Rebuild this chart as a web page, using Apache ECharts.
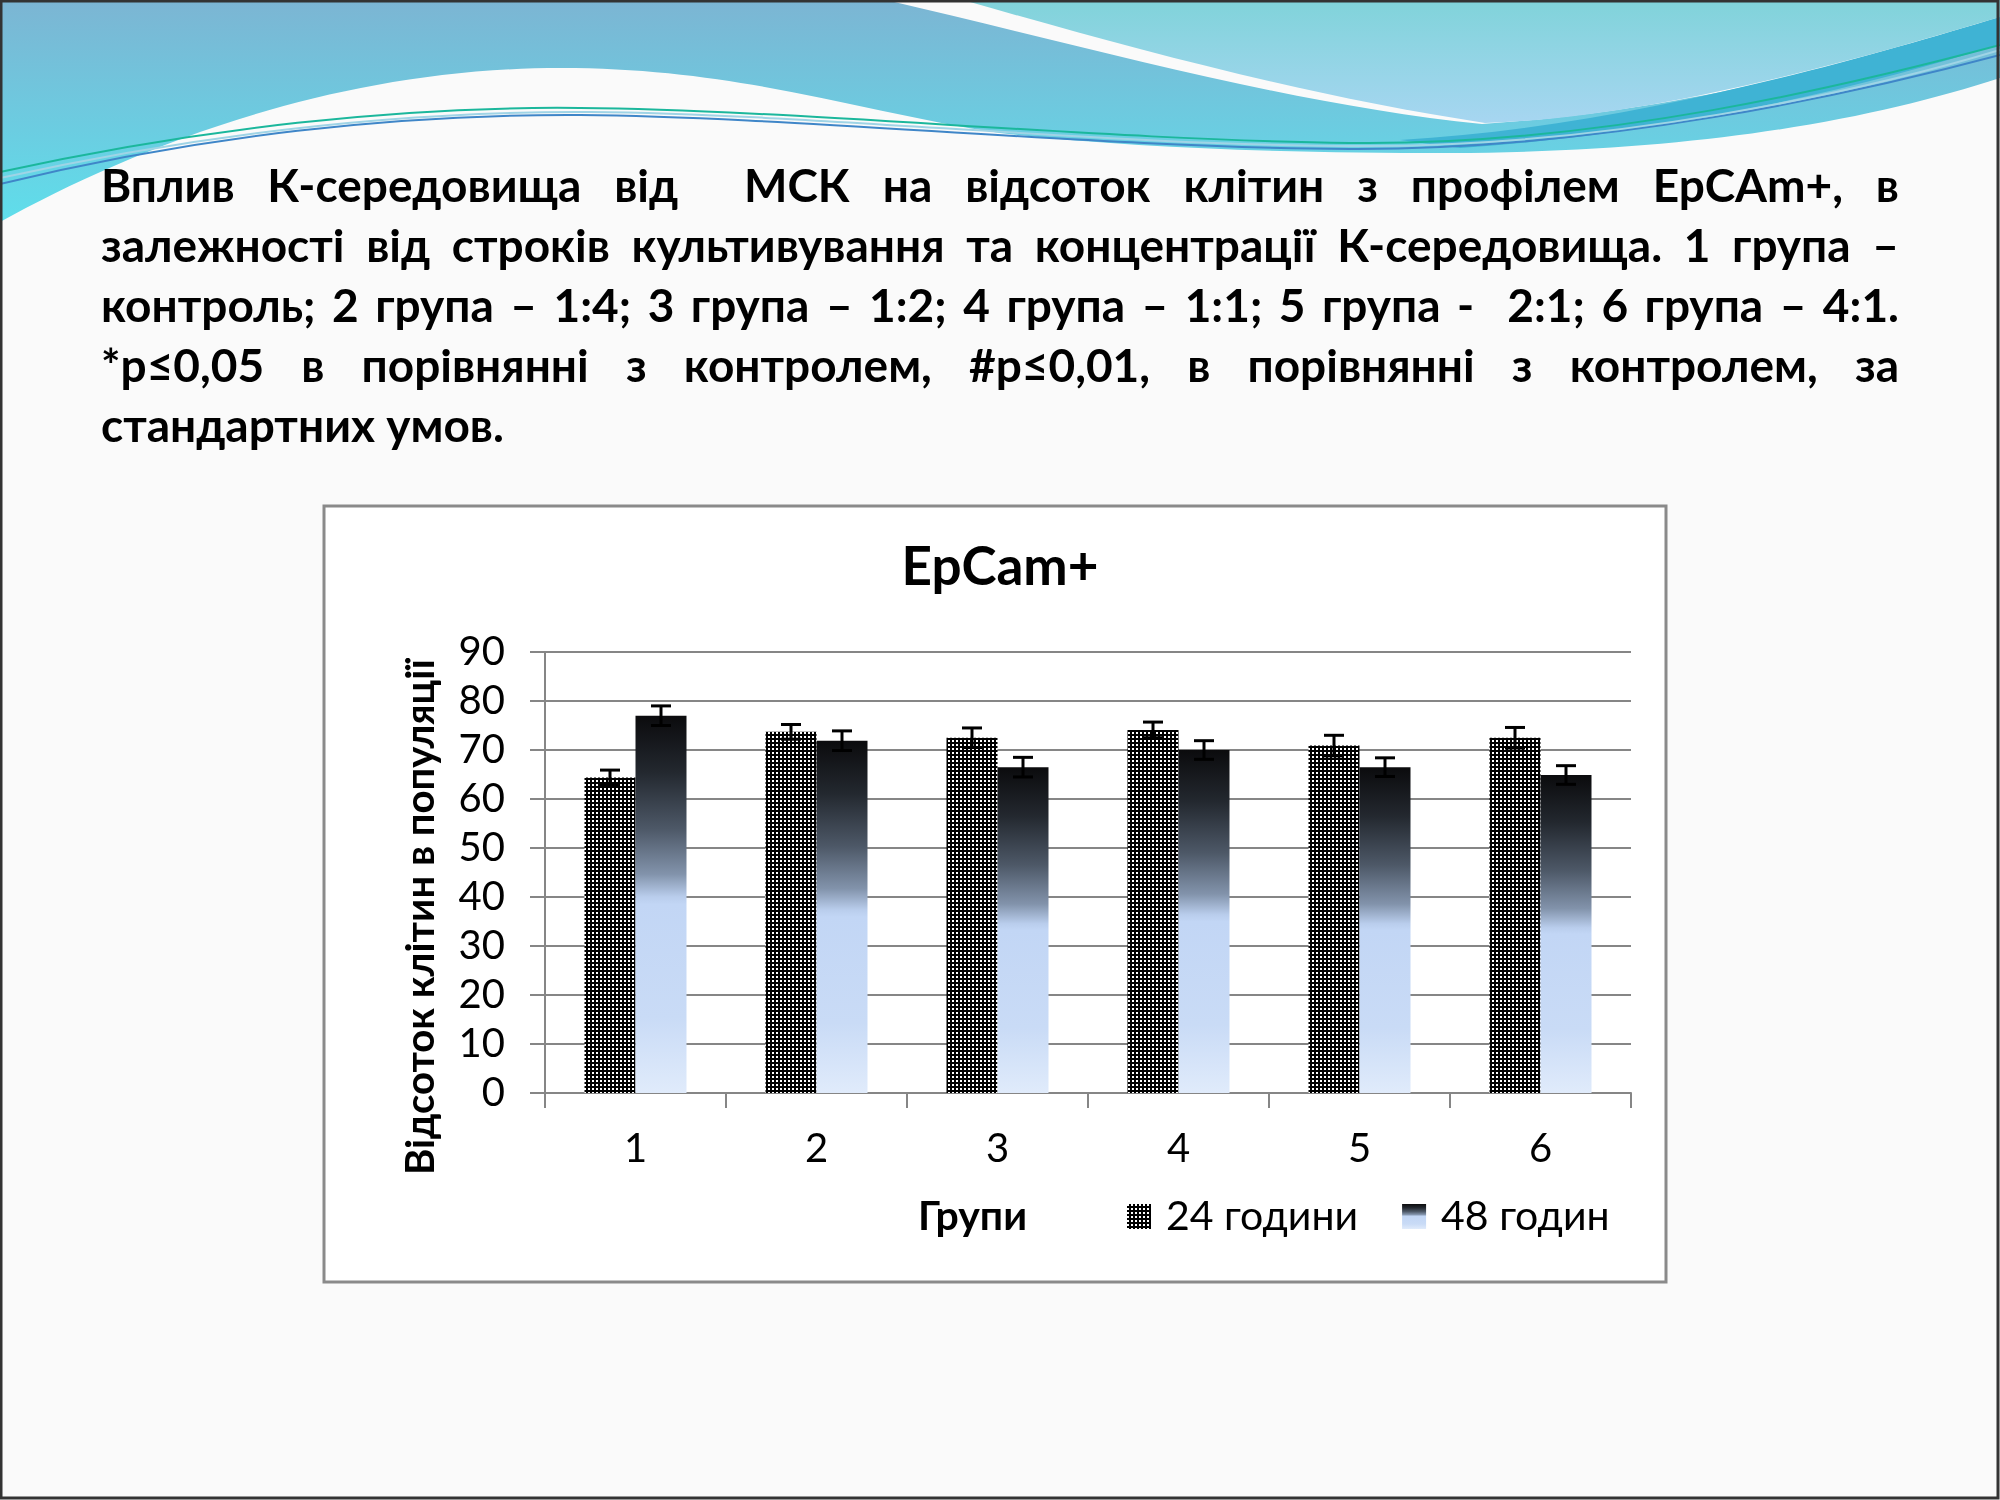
<!DOCTYPE html>
<html>
<head>
<meta charset="utf-8">
<script src="https://cdn.jsdelivr.net/npm/echarts@6/dist/echarts.min.js"></script>
<style>
  html, body { margin: 0; padding: 0; background: #fafafa; }
  #wrap { position: relative; width: 2000px; height: 1500px; overflow: hidden; }
  #bg { position: absolute; left: 0; top: 0; }
  #chart { position: absolute; left: 0; top: 0; width: 2000px; height: 1500px; }
  #caption {
    position: absolute; left: 101px; top: 155px; width: 1798px;
    font-family: Lato, "Noto Sans", sans-serif; font-weight: bold;
    font-size: 46px; line-height: 60px; color: #000;
  }
  #caption div { text-align: justify; text-align-last: justify; white-space: nowrap; }
  #caption div.last { text-align-last: left; }
</style>
</head>
<body>
<div id="wrap">
  <svg id="bg" width="2000" height="1500" viewBox="0 0 2000 1500">
    <defs>
      <linearGradient id="gL" x1="0" y1="0" x2="0" y2="1">
        <stop offset="0" stop-color="#7cb5d3"/>
        <stop offset="1" stop-color="#5fdeeb"/>
      </linearGradient>
      <linearGradient id="gR" x1="0" y1="0" x2="0" y2="1">
        <stop offset="0" stop-color="#80d3da"/>
        <stop offset="1" stop-color="#a7d6f1"/>
      </linearGradient>
    </defs>
    <path fill="url(#gL)" d="M0,0 L886,0 C1080,45 1290,105 1482,124 C1700,110 1880,55 2000,17 L2000,78 C1870,120 1700,152 1450,153 C1280,153 1130,148 1000,133 C860,112 740,68 561,68 C330,68 130,150 0,222 Z"/>
    <path fill="#3fb3d4" d="M1400,140 C1620,128 1850,62 2000,17 L2000,44 C1850,92 1650,136 1460,148 Z"/>
    <path fill="url(#gR)" d="M963,0 L2000,0 L2000,17 C1850,62 1650,118 1485,123 C1300,95 1120,45 963,0 Z"/>
    <path fill="none" stroke="#1bb79c" stroke-width="2" d="M0,172 C200,128 400,106 580,108 C800,110 1100,140 1350,143 C1600,146 1850,85 2000,45"/>
    <path fill="none" stroke="#3f86c8" stroke-width="2" d="M0,184 C200,135 400,114 580,115 C800,117 1100,148 1350,149 C1600,150 1850,95 2000,55"/>
    <path fill="none" stroke="#9fd4e6" stroke-width="2" d="M0,178 C210,132 410,111 590,112 C820,114 1110,146 1360,146 C1610,147 1860,92 2000,50"/>
  </svg>
  <div id="chart"></div>
  <div id="caption">
    <div>Вплив К-середовища від&nbsp; МСК на відсоток клітин з профілем EpCAm+, в</div>
    <div>залежності від строків культивування та концентрації К-середовища. 1 група –</div>
    <div>контроль; 2 група – 1:4; 3 група – 1:2; 4 група – 1:1; 5 група -&nbsp; 2:1; 6 група – 4:1.</div>
    <div>*р≤0,05 в порівнянні з контролем, #р≤0,01, в порівнянні з контролем, за</div>
    <div class="last">стандартних умов.</div>
  </div>
</div>
<script>
(function () {

  // дані з рисунка
  var groups = ['1', '2', '3', '4', '5', '6'];
  var h24 = [64.4, 73.7, 72.5, 74.1, 70.9, 72.5];
  var h48 = [77.0, 71.9, 66.5, 70.0, 66.5, 64.9];
  var err24 = [1.5, 1.5, 2.0, 1.6, 2.1, 2.1];
  var err48 = [2.0, 2.0, 2.0, 1.9, 1.9, 1.9];
  var seriesNames = ['24 години', '48 годин'];

  var font = 'Lato, "Noto Sans", sans-serif';
  var barW = 51;

  // візерунок "сітка" для 24 год
  var pat = document.createElement('canvas');
  pat.width = 4; pat.height = 4;
  var pc = pat.getContext('2d');
  pc.fillStyle = '#000'; pc.fillRect(0, 0, 4, 4);
  pc.fillStyle = '#fff'; pc.fillRect(0, 0, 2, 2);

  var grad48 = new echarts.graphic.LinearGradient(0, 0, 0, 1, [
    { offset: 0, color: '#0b0b0d' },
    { offset: 0.15, color: '#23282f' },
    { offset: 0.3, color: '#4d5867' },
    { offset: 0.42, color: '#8293ab' },
    { offset: 0.48, color: '#b9cdec' },
    { offset: 0.5, color: '#c2d6f5' },
    { offset: 0.8, color: '#c9dbf6' },
    { offset: 1, color: '#e0ebfb' }
  ]);

  function errData(vals, errs) {
    return vals.map(function (v, i) { return [i, v, errs[i]]; });
  }

  function errRender(side) {
    return function (params, api) {
      var i = api.value(0), v = api.value(1), e = api.value(2);
      var hi = api.coord([i, v + e]);
      var lo = api.coord([i, v - e]);
      var x = hi[0] + side * barW / 2;
      var cap = 10;
      var st = { stroke: '#000', lineWidth: 3 };
      return {
        type: 'group',
        children: [
          { type: 'line', shape: { x1: x, y1: hi[1], x2: x, y2: lo[1] }, style: st },
          { type: 'line', shape: { x1: x - cap, y1: hi[1], x2: x + cap, y2: hi[1] }, style: st },
          { type: 'line', shape: { x1: x - cap, y1: lo[1], x2: x + cap, y2: lo[1] }, style: st }
        ]
      };
    };
  }

  var myChart = echarts.init(document.getElementById('chart'));

  var option = {
    animation: false,
    backgroundColor: 'transparent',
    textStyle: { fontFamily: font },
    title: {
      text: 'EpCam+',
      left: 'center', top: 536,
      textStyle: { fontFamily: font, fontWeight: 'bold', fontSize: 53, color: '#000' }
    },
    graphic: [
      // рамка слайда
      { type: 'rect', z: 50, silent: true,
        shape: { x: 1, y: 1, width: 1997, height: 1497 },
        style: { fill: null, stroke: '#333', lineWidth: 3 } },
      // поле діаграми
      { type: 'rect', z: -10, silent: true,
        shape: { x: 324, y: 506, width: 1342, height: 776 },
        style: { fill: '#fff', stroke: '#8a8a8a', lineWidth: 3 } },
      // назва осі Y
      { type: 'text', z: 10, x: 421, y: 917, rotation: Math.PI / 2,
        style: { text: 'Відсоток клітин в популяції', fontFamily: font, fontWeight: 'bold',
          fontSize: 40, fill: '#000', align: 'center', verticalAlign: 'middle' } },
      // назва осі X
      { type: 'text', z: 10, x: 918, y: 1217,
        style: { text: 'Групи', fontFamily: font, fontWeight: 'bold',
          fontSize: 41, fill: '#000', align: 'left', verticalAlign: 'middle' } }
    ],
    legend: {
      data: seriesNames,
      left: 1122, top: 1191,
      icon: 'rect',
      itemWidth: 24, itemHeight: 25,
      itemGap: 44,
      textStyle: { fontFamily: font, fontSize: 41, color: '#000', padding: [0, 0, 0, 10] }
    },
    grid: { left: 545, right: 369, top: 652, bottom: 407, containLabel: false },
    xAxis: {
      type: 'category',
      data: groups,
      axisLine: { lineStyle: { color: '#868686', width: 2 } },
      axisTick: { show: true, length: 15, lineStyle: { color: '#868686', width: 2 } },
      axisLabel: { fontFamily: font, fontSize: 40, color: '#000', margin: 36 }
    },
    yAxis: {
      type: 'value',
      min: 0, max: 90, interval: 10,
      axisLine: { show: true, lineStyle: { color: '#868686', width: 2 } },
      axisTick: { show: true, length: 15, lineStyle: { color: '#868686', width: 2 } },
      axisLabel: { fontFamily: font, fontSize: 40, color: '#000', margin: 40 },
      splitLine: { lineStyle: { color: '#868686', width: 2 } }
    },
    series: [
      {
        name: seriesNames[0], type: 'bar', data: h24,
        barWidth: barW, barGap: '0%',
        itemStyle: { color: { image: pat, repeat: 'repeat' } }
      },
      {
        name: seriesNames[1], type: 'bar', data: h48,
        barWidth: barW, barGap: '0%',
        itemStyle: { color: grad48 }
      },
      {
        type: 'custom', z: 5, silent: true,
        renderItem: errRender(-1),
        data: errData(h24, err24),
        encode: { x: 0, y: 1 }
      },
      {
        type: 'custom', z: 5, silent: true,
        renderItem: errRender(1),
        data: errData(h48, err48),
        encode: { x: 0, y: 1 }
      }
    ]
  };

  myChart.setOption(option);

})();
</script>
</body>
</html>
